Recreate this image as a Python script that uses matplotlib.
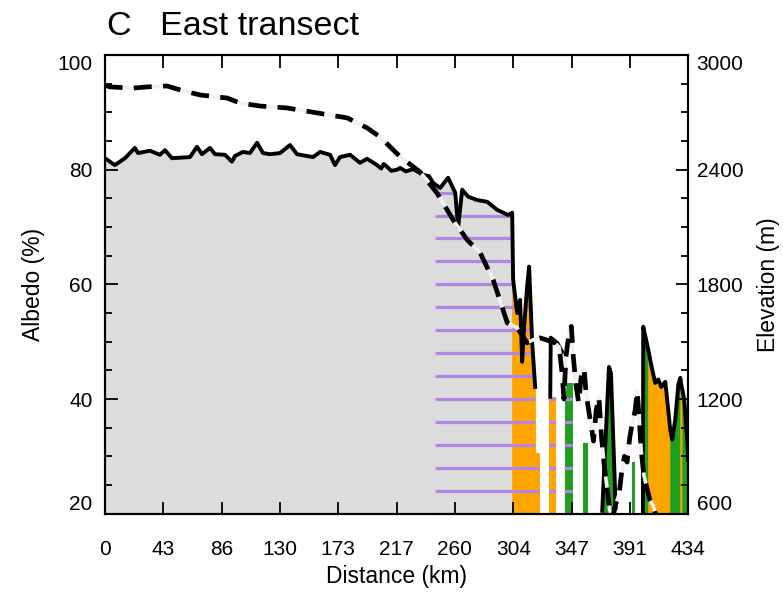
import numpy as np
import matplotlib
matplotlib.use('Agg')
import matplotlib.pyplot as plt
from matplotlib.path import Path
from matplotlib.ticker import MultipleLocator

plt.rcParams['font.family'] = ['Liberation Sans', 'DejaVu Sans']

# albedo profile (km, %), NaN = no data; surface class of the segment that starts at each point
# s = snow (grey), i = bare ice (orange), v = vegetation (green), '' = unfilled
dist_km = [0.0, 7.4, 14.9, 22.3, 24.6, 33.5, 40.9, 44.7, 49.9, 63.3, 68.5, 72.2, 78.2, 81.9,
           89.3, 94.5, 96.8, 102.7, 107.9, 113.2, 117.6, 122.8, 130.3, 137.7, 142.9, 154.8,
           160.1, 167.5, 171.2, 174.9, 182.4, 189.8, 195.0, 202.5, 205.5, 207.5, 209.9, 213.0,
           217.4, 219.6, 224.0, 229.3, 236.7, 241.0, 244.2, 249.4, 255.3, 260.6, 262.8, 265.8,
           270.2, 276.9, 284.4, 291.8, 300.0, 303.0,
           303.7, 306.7, 308.9, 310.4, 311.9, 314.1, 315.6, 317.9, 320.1, 321.0,
           331.3, 331.7, 336.5, 340.2, 341.0,
           370.0, 375.0, 376.5, 380.0, 380.5,
           400.3, 400.5, 402.5, 404.2, 407.2, 409.4, 411.7, 413.9, 416.9, 419.1, 420.6, 422.1,
           424.3, 426.6, 428.1, 428.8, 429.6, 431.0, 433.2, 434.0]
albedo = [82.0, 80.8, 82.0, 83.8, 82.9, 83.3, 82.6, 83.4, 82.0, 82.2, 84.0, 82.7, 83.8, 82.7,
          82.6, 81.4, 82.4, 83.1, 82.9, 84.7, 82.9, 82.7, 82.9, 84.3, 82.7, 82.2,
          83.1, 82.6, 80.8, 82.2, 82.6, 81.2, 81.9, 80.8, 80.2, 81.0, 80.5, 79.8,
          80.0, 80.3, 79.7, 80.1, 79.1, 78.9, 77.7, 76.8, 78.6, 76.0, 70.0, 76.5,
          75.3, 74.7, 74.4, 73.0, 72.1, 72.5,
          60.8, 55.0, 57.3, 46.5, 52.6, 59.6, 63.1, 49.8, 42.1, np.nan,
          40.4, 50.7, 49.8, 48.2, np.nan,
          20.5, 45.6, 44.5, 21.0, np.nan,
          20.0, 52.6, 50.5, 48.6, 45.1, 42.8, 43.4, 42.1, 43.0, 38.1, 34.6, 32.9,
          36.4, 42.5, 43.7, 42.5, 41.6, 39.9, 32.9, 29.4]
surface = ['s'] * 55 + ['i'] * 9 + ['', ''] + ['', '', '', '', ''] + ['v', 'v', 'v', '', ''] + \
          ['v', 'v', 'v', 'i', 'i', 'i', 'i', 'i', 'i', 'i', 'v', 'v', 'v', 'v', 'i', 'i',
           'v', 'v', 'v', '']

# flat-topped patches of classified surface (km, %)
bar_left = [320.1, 330.6, 342.0, 355.8, 392.3]
bar_right = [323.8, 335.8, 348.0, 359.5, 394.5]
bar_top = [30.6, 40.4, 42.8, 32.4, 29.0]
bar_class = ['i', 'i', 'v', 'v', 'v']

# elevation profile (km, m)
elev_km = [0.0, 3.7, 20.8, 31.3, 46.2, 53.6, 70.7, 90.8, 100.5, 115.4, 135.5, 157.9, 180.3,
           195.2, 204.7, 219.8, 234.5, 247.1, 259.1, 269.5, 279.2, 288.8, 295.5, 299.3, 306.7,
           314.1, 318.6, 323.8, 335.0, 338.0, 340.2, 341.5, 343.0, 345.5, 347.0, 348.5, 350.5,
           352.5, 354.5, 356.5, 358.0, 359.5, 361.5, 363.5, 365.5, 367.5, 369.5, 371.5, 373.5,
           375.5, 377.5, 380.0, 382.5, 384.5, 386.5, 388.5, 390.5, 392.5, 394.5, 396.0, 397.5,
           399.0, 401.0, 403.0, 405.5, 408.0, 410.5]
elev_m = [2843, 2833, 2827, 2833, 2838, 2822, 2791, 2775, 2749, 2733, 2723, 2697, 2671,
          2618, 2571, 2467, 2388, 2278, 2137, 2033, 1965, 1824, 1682, 1599, 1573,
          1494, 1510, 1520, 1494, 1470, 1330, 1200, 1420, 1560, 1580, 1420, 1270,
          1180, 1330, 1360, 1230, 1160, 1070, 980, 1140, 1210, 1000, 850, 740,
          620, 580, 650, 700, 820, 900, 870, 1000, 1080, 1140, 1240, 1100,
          930, 800, 740, 670, 640, 580]

xtick_labels = ['0', '43', '86', '130', '173', '217', '260', '304', '347', '391', '434']
hatch_levels = [20, 24, 28, 32, 36, 40, 44, 48, 52, 56, 60, 64, 68, 72, 76]

colors = {'s': '#dcdcdc', 'i': '#ffa500', 'v': '#1f9e1f'}

fig = plt.figure(figsize=(7.83, 5.98), dpi=100)
ax = fig.add_axes([0.134, 0.141, 0.745, 0.767])

x = np.array(dist_km)
y = np.array(albedo)

# fill under the albedo curve, one polygon per run of the same class
clip_paths = []
i = 0
while i < len(x) - 1:
    c = surface[i]
    j = i
    while j < len(x) - 1 and surface[j] == c:
        j += 1
    if c:
        poly = ax.fill_between(x[i:j + 1], 20, y[i:j + 1], color=colors[c], lw=0.6,
                               edgecolor=colors[c], zorder=1)
        clip_paths.extend(poly.get_paths())
    i = j

bars = ax.bar(bar_left, np.array(bar_top) - 20, width=np.array(bar_right) - np.array(bar_left),
              bottom=20, align='edge', color=[colors[c] for c in bar_class], lw=0, zorder=1)
for b in bars:
    clip_paths.append(b.get_patch_transform().transform_path(b.get_path()))

hatch = ax.hlines(hatch_levels, 245.6, 350.0, colors='#b386e6', lw=2.3, zorder=2)
hatch.set_clip_path(Path.make_compound_path(*clip_paths), ax.transData)

ax.plot(x, y, color='black', lw=2.8, zorder=3)

ax.set_xlim(0, 434)
ax.set_ylim(20, 100)
ax.set_xticks(np.linspace(0, 434, 11))
ax.set_xticklabels(xtick_labels)
ax.set_yticks([20, 40, 60, 80, 100])
ax.yaxis.set_minor_locator(MultipleLocator(5))
ax.tick_params(which='both', direction='in', top=True, right=False, width=1.3, labelsize=15)
ax.tick_params(axis='x', which='major', length=9, pad=19)
ax.tick_params(axis='y', which='major', length=9, pad=9)
ax.tick_params(axis='y', which='minor', length=5)
ax.set_xlabel('Distance (km)', fontsize=16.5, labelpad=4)
ax.set_ylabel('Albedo (%)', fontsize=16.5, labelpad=9)
for s in ax.spines.values():
    s.set_linewidth(1.5)

ax2 = ax.twinx()
ax2.plot(elev_km, elev_m, color='#f0f0f0', lw=2.6, zorder=1)
ax2.plot(elev_km, elev_m, color='black', lw=3.4, dashes=(3.8, 2.4), zorder=2)
ax2.set_ylim(600, 3000)
ax2.set_yticks([600, 1200, 1800, 2400, 3000])
ax2.yaxis.set_minor_locator(MultipleLocator(150))
ax2.tick_params(which='both', direction='in', width=1.3, labelsize=15, pad=6)
ax2.tick_params(which='major', length=9)
ax2.tick_params(which='minor', length=5)
ax2.set_ylabel('Elevation (m)', fontsize=16.5, labelpad=10)
for s in ax2.spines.values():
    s.set_linewidth(1.5)

# end labels sit inside the axis range
for a in (ax, ax2):
    labels = a.get_yticklabels()
    labels[0].set_va('bottom')
    labels[-1].set_va('top')

fig.text(0.137, 0.955, 'C   East transect', fontsize=24.5, ha='left', va='center')

fig.savefig('out.png', dpi=100)
